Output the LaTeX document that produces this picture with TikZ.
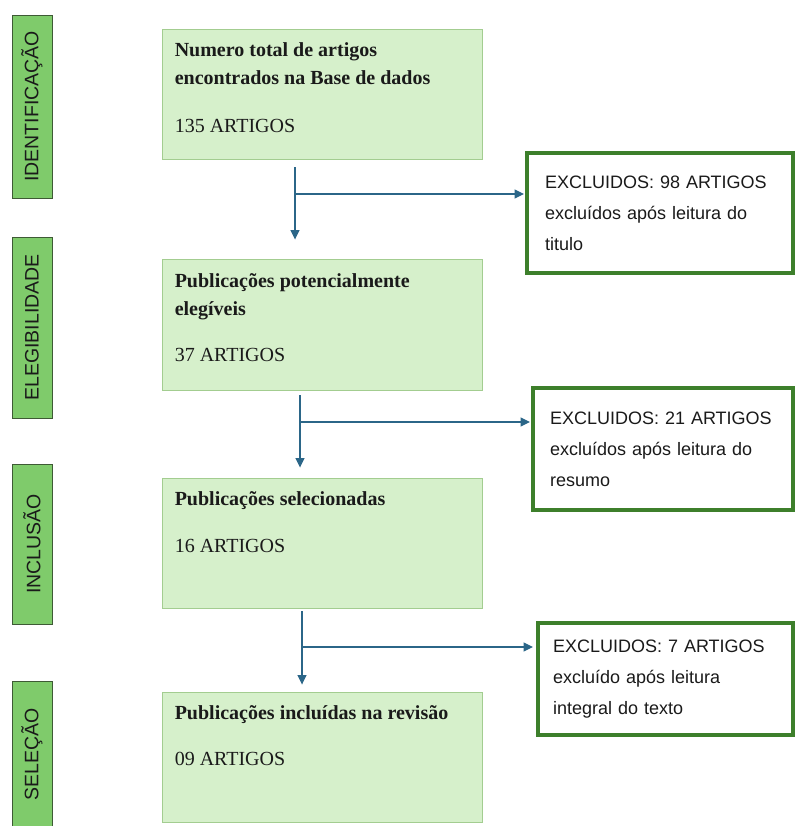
\documentclass[tikz,border=0pt]{standalone}
\usepackage{fontspec}
\setmainfont{Liberation Serif}
\setsansfont{Liberation Sans}
\usetikzlibrary{arrows.meta,calc,positioning}
\definecolor{ink}{HTML}{1A1A1A}
\definecolor{stagegreen}{HTML}{7FCB6B}
\definecolor{stageline}{HTML}{3E5A35}
\definecolor{boxgreen}{HTML}{D6F0CB}
\definecolor{boxline}{HTML}{A3CD90}
\definecolor{exgreen}{HTML}{3D7F2B}
\definecolor{flowblue}{HTML}{2B6688}
\tikzset{
  stage/.style={draw=stageline,fill=stagegreen,line width=.9pt,rotate=90,minimum height=40pt,inner sep=0pt,font=\sffamily\fontsize{19.5}{22}\selectfont,text=ink},
  mainbox/.style={draw=boxline,fill=boxgreen,line width=.9pt,minimum width=320pt,minimum height=130pt,inner sep=0pt},
  boxtext/.style={anchor=north west,inner sep=0pt,align=left,font=\fontsize{20}{28}\selectfont,text=ink},
  exclbox/.style={draw=exgreen,fill=white,line width=4pt,inner xsep=0pt,align=left,font=\sffamily\fontsize{18}{31}\selectfont,text=ink},
  flow/.style={-{Triangle[length=9.5pt,width=9pt]},draw=flowblue,line width=1.2pt},
}
\begin{document}
\begin{tikzpicture}[x=1pt,y=-1pt]
  \useasboundingbox (0,0) rectangle (795,826);
  % Stage labels down the left margin
  \foreach \name/\y/\h/\txt in {identif/106.5/183/IDENTIFICAÇÃO,elegib/327.5/181/ELEGIBILIDADE,inclus/544/160/INCLUSÃO,selec/754.5/147/SELEÇÃO}
    \node[stage,minimum width=\h pt] (\name) at (32,\y) {\txt};

  % Main flow of the review
  \node[mainbox] (box1) at (322,94) {};
  \node[boxtext] (txt1) at ($(box1.north west)+(13,14)$) {\textbf{Numero total de artigos}\\\textbf{encontrados na Base de dados}\\[20pt]135 ARTIGOS};
  \node[mainbox,minimum height=131pt] (box2) at (322,324.5) {};
  \node[boxtext] (txt2) at ($(box2.north west)+(13,15)$) {\textbf{Publicações potencialmente}\\\textbf{elegíveis}\\[18pt]37 ARTIGOS};
  \node[mainbox] (box3) at (322,543) {};
  \node[boxtext] (txt3) at ($(box3.north west)+(13,14)$) {\textbf{Publicações selecionadas}\\[19pt]16 ARTIGOS};
  \node[mainbox] (box4) at (322,757) {};
  \node[boxtext] (txt4) at ($(box4.north west)+(13,14)$) {\textbf{Publicações incluídas na revisão}\\[18pt]09 ARTIGOS};

  % Exclusions on the right
  \node[exclbox,minimum width=266pt,minimum height=120pt,text width=230pt] (ex1) at (660,213) {EXCLUIDOS: 98 ARTIGOS\\excluídos após leitura do\\titulo};
  \node[exclbox,minimum width=260pt,minimum height=122pt,text width=226pt] (ex2) at (663,449) {EXCLUIDOS: 21 ARTIGOS\\excluídos após leitura do\\resumo};
  \node[exclbox,minimum width=255pt,minimum height=112pt,text width=225pt] (ex3) at (665.5,679) {EXCLUIDOS: 7 ARTIGOS\\excluído após leitura\\integral do texto};

  \coordinate (j1) at (295,194);
  \coordinate (j2) at (300,422);
  \coordinate (j3) at (302,647);
  \draw[flow,shorten <=8pt,shorten >=19pt] (j1 |- box1.south) -- (j1 |- box2.north);
  \draw[flow,shorten >=1pt] (j1) -- (j1 -| ex1.west);
  \draw[flow,shorten <=5pt,shorten >=10pt] (j2 |- box2.south) -- (j2 |- box3.north);
  \draw[flow,shorten >=1pt] (j2) -- (j2 -| ex2.west);
  \draw[flow,shorten <=3pt,shorten >=7pt] (j3 |- box3.south) -- (j3 |- box4.north);
  \draw[flow,shorten >=3pt] (j3) -- (j3 -| ex3.west);
\end{tikzpicture}
\end{document}
